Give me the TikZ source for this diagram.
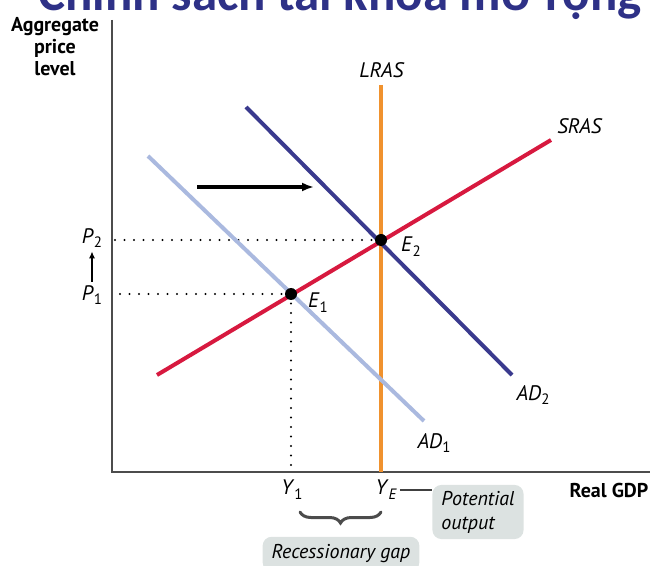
\documentclass[tikz,border=0pt]{standalone}
\usepackage{fontspec}
\setmainfont{PT Sans}
\newfontfamily\titlefont{Carlito}
\usetikzlibrary{arrows.meta,positioning,calc,decorations.pathreplacing}
\definecolor{lrascol}{HTML}{F0922E}
\definecolor{srascol}{HTML}{D7193F}
\definecolor{adtwocol}{HTML}{3A3A8E}
\definecolor{adonecol}{HTML}{AAB9DF}
\definecolor{notecol}{HTML}{DCE2E1}
\definecolor{titlecol}{HTML}{2E3187}
\newcommand{\withsub}[2]{\textit{#1}\raisebox{-0.45ex}{\fontsize{15}{15}\selectfont #2}}

\begin{document}
\begin{tikzpicture}[x=1pt,y=1pt,font=\fontsize{21}{23}\selectfont,
  curve/.style={line width=4pt},
  guide/.style={dash pattern=on 0pt off 9.5pt,line width=2.2pt,line cap=round},
  eqpt/.style={circle,fill=black,inner sep=0pt,minimum size=12pt},
  axislab/.style={font=\fontsize{20}{22}\selectfont\bfseries,align=center},
  note/.style={fill=notecol,rounded corners=9pt,align=left,font=\fontsize{20}{24}\selectfont\itshape,inner xsep=9pt,inner ysep=6pt}]
  \clip (0,0) rectangle (652,565);
  % title, cut by the top edge
  \node[text=titlecol,font=\fontsize{51}{51}\selectfont\titlefont\bfseries,anchor=base] (title) at (340,554) {Chính sách tài khóa mở rộng};
  % axes
  \coordinate (O) at (112,93);
  \coordinate (ytop) at (112,545);
  \coordinate (xend) at (650,93);
  \draw[black!70,line width=1.4pt] (ytop) -- (O) -- (xend);
  \node[axislab] (ylab) at (55,518) {Aggregate\\price\\level};
  \node[axislab] (xlab) at (609,75) {Real GDP};
  % curves
  \coordinate (lrastop) at (381,480);
  \coordinate (lrasbot) at (381,93);
  \coordinate (srasa) at (157,190);
  \coordinate (srasb) at (551,425);
  \coordinate (adonea) at (148,409);
  \coordinate (adoneb) at (424,144);
  \coordinate (adtwoa) at (246,458);
  \coordinate (adtwob) at (512,190);
  \coordinate (E1) at (291,271);
  \coordinate (E2) at (381,325);
  \draw[guide] (E2) -- (E2 -| O);
  \draw[guide] (E1) -- (E1 -| O);
  \draw[guide] (E1) -- (E1 |- O);
  \draw[curve,lrascol] (lrastop) -- (lrasbot);
  \draw[curve,adonecol] (adonea) -- (adoneb);
  \draw[curve,srascol] (srasa) -- (srasb);
  \draw[curve,adtwocol] (adtwoa) -- (adtwob);
  \node[eqpt] (e1dot) at (E1) {};
  \node[eqpt] (e2dot) at (E2) {};
  % labels
  \node (lras) at (382,495) {\textit{LRAS}};
  \node (sras) at (580,439) {\textit{SRAS}};
  \node (adtwo) at (533,170) {\withsub{AD}{2}};
  \node (adone) at (434,122) {\withsub{AD}{1}};
  \node (etwo) at (411,318) {\withsub{E}{2}};
  \node (eone) at (318,262) {\withsub{E}{1}};
  \node (ptwo) at (92,327) {\withsub{P}{2}};
  \node (pone) at (92,270) {\withsub{P}{1}};
  \draw[-{Latex[length=7pt,width=6pt]},line width=1.4pt] (pone) -- (ptwo);
  \node (yone) at (292,75) {\withsub{Y}{1}};
  \node (ye) at (386,75) {\withsub{Y}{\itshape E}};
  % shift of AD
  \coordinate (shifta) at (197,378);
  \coordinate (shiftb) at (314,378);
  \draw[-{Latex[length=12pt,width=9pt]},line width=3.5pt] (shifta) -- (shiftb);
  % notes
  \node[note] (potential) at (478,53) {Potential\\output};
  \draw[black!75,line width=1.2pt] (ye.east) -- (ye.east -| potential.west);
  \draw[black!70,line width=3pt,line cap=round,decorate,decoration={brace,mirror,amplitude=11pt}] (300,53) -- (381,53) coordinate (bracee);
  \node[note,inner ysep=8pt] (gap) at (341,11) {Recessionary gap};
\end{tikzpicture}
\end{document}
